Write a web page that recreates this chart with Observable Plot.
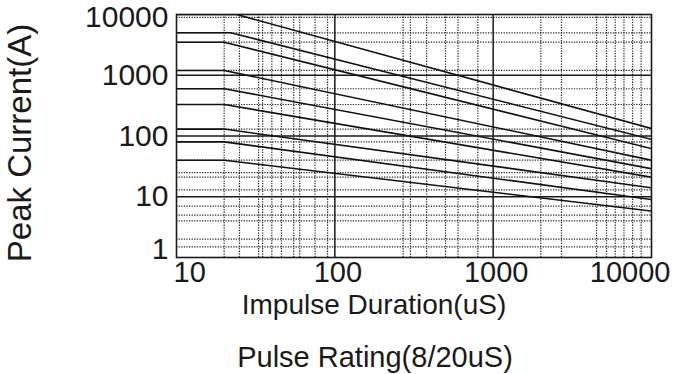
<!DOCTYPE html>
<html>
<head>
<meta charset="utf-8">
<script src="https://cdn.jsdelivr.net/npm/d3@7"></script>
<script src="https://cdn.jsdelivr.net/npm/@observablehq/plot@0.6"></script>
<style>
  html, body { margin: 0; padding: 0; background: #fff; }
  svg { display: block; }
</style>
</head>
<body>
<div id="chart"></div>
<script>
// ---- data ----
const seriesNames   = ["S1", "S2", "S3", "S4", "S5", "S6", "S7", "S8", "S9"];
const startDuration = [10, 10, 10, 10, 10, 10, 10, 10, 10];          // uS
const breakDuration = [24, 22, 20, 20, 20, 20, 20, 20, 20];          // uS
const endDuration   = [10000, 10000, 10000, 10000, 10000, 10000, 10000, 10000, 10000];
const flatPeak      = [10000, 5000, 3500, 1200, 600, 330, 130, 80, 40]; // A
const endPeak       = [133, 88, 62, 40, 29, 21, 14, 9, 5.8];           // A

const xMajorGrid = [100, 1000];
const yMajorGrid = [10, 100, 1000];
const xMinorGrid = [20, 25, 33, 35, 40, 46, 55, 60, 75, 90,
                    270, 300, 380, 500, 600, 800,
                    2000, 2700, 4500, 5200, 5900, 6700, 7600, 8600];
const yMinorGrid = [9000, 5000, 3500, 1200, 600, 330, 130, 80, 40,
                    25, 21, 13, 7, 5, 4, 2, 1.5];

const xTickLabels = [10, 100, 1000, 10000];
const yTickLabels = [1, 10, 100, 1000, 10000];

const xTitle  = "Impulse Duration(uS)";
const yTitle  = "Peak Current(A)";
const caption = "Pulse Rating(8/20uS)";

// ---- table for the line mark ----
const rows = seriesNames.flatMap((s, i) => [
  {s, t: startDuration[i], a: flatPeak[i]},
  {s, t: breakDuration[i], a: flatPeak[i]},
  {s, t: endDuration[i],   a: endPeak[i]}
]);

const ink = "#1a1a1a";
const font = "'Liberation Sans', Arial, Helvetica, sans-serif";

const chart = Plot.plot({
  width: 677,
  height: 374,
  marginLeft: 176,
  marginRight: 26,
  marginTop: 14,
  marginBottom: 117,
  x: {type: "log", domain: [10, 10000], axis: null},
  y: {type: "log", domain: [1, 10000], axis: null},
  style: {fontFamily: font, background: "#fff", color: ink},
  marks: [
    Plot.ruleX(xMinorGrid, {stroke: "#2a2a2a", strokeWidth: 1.2, strokeDasharray: "1.3,1.3"}),
    Plot.ruleY(yMinorGrid, {stroke: "#2a2a2a", strokeWidth: 1.2, strokeDasharray: "1.3,1.3"}),
    Plot.ruleX(xMajorGrid, {stroke: ink, strokeWidth: 1.5}),
    Plot.ruleY(yMajorGrid, {stroke: ink, strokeWidth: 1.5}),
    Plot.line(rows, {x: "t", y: "a", z: "s", stroke: "#111", strokeWidth: 1.6, clip: true}),
    Plot.frame({stroke: ink, strokeWidth: 1.6}),

    // y tick labels
    Plot.text(yTickLabels.slice(1, -1), {y: d => d, text: d => String(d), frameAnchor: "left",
      textAnchor: "end", lineAnchor: "middle", dx: -8, dy: 0, fontSize: 30, fill: ink}),
    Plot.text(yTickLabels.slice(0, 1), {y: d => d, text: d => String(d), frameAnchor: "left",
      textAnchor: "end", lineAnchor: "middle", dx: -8, dy: -8, fontSize: 30, fill: ink}),
    Plot.text(yTickLabels.slice(-1), {y: d => d, text: d => String(d), frameAnchor: "left",
      textAnchor: "end", lineAnchor: "middle", dx: -8, dy: 3, fontSize: 30, fill: ink}),

    // x tick labels
    Plot.text(xTickLabels.slice(0, 1), {x: d => d, text: d => String(d), frameAnchor: "bottom",
      textAnchor: "start", lineAnchor: "top", dx: -3, dy: 4, fontSize: 29, fill: ink}),
    Plot.text(xTickLabels.slice(1, -1), {x: d => d, text: d => String(d), frameAnchor: "bottom",
      textAnchor: "middle", lineAnchor: "top", dx: 3, dy: 4, fontSize: 29, fill: ink}),
    Plot.text(xTickLabels.slice(-1), {x: d => d, text: d => String(d), frameAnchor: "bottom",
      textAnchor: "end", lineAnchor: "top", dx: 19, dy: 4, fontSize: 29, fill: ink}),

    // axis titles
    Plot.text([xTitle], {text: d => d, frameAnchor: "bottom", lineAnchor: "top",
      textAnchor: "middle", dx: -40, dy: 37, fontSize: 28, fill: ink}),
    Plot.text([caption], {text: d => d, frameAnchor: "bottom", lineAnchor: "top",
      textAnchor: "middle", dx: -39, dy: 89, fontSize: 29, fill: ink}),
    Plot.text([yTitle], {text: d => d, frameAnchor: "left", rotate: -90, lineAnchor: "middle",
      textAnchor: "middle", dx: -156, dy: 7, fontSize: 33, fill: ink})
  ]
});

document.getElementById("chart").appendChild(chart);
</script>
</body>
</html>
